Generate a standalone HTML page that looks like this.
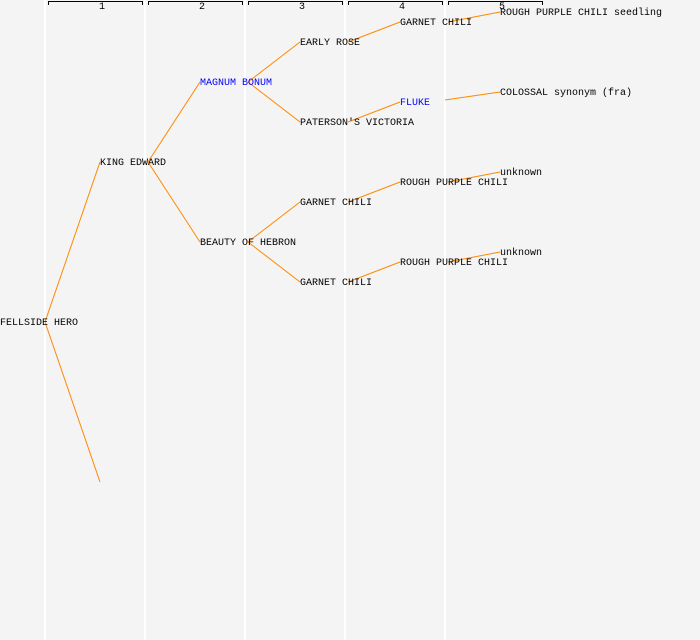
<!DOCTYPE html>
<html><head><style>body{margin:0;background:#f4f4f4}svg{display:block}text{font-family:"Liberation Mono",monospace;font-size:10px}</style></head><body>
<svg width="700" height="640" xmlns="http://www.w3.org/2000/svg">
<rect width="700" height="640" fill="#f4f4f4"/>
<g stroke="#ffffff" stroke-width="2">
<line x1="45" y1="0" x2="45" y2="640"/><line x1="145" y1="0" x2="145" y2="640"/><line x1="245" y1="0" x2="245" y2="640"/><line x1="345" y1="0" x2="345" y2="640"/><line x1="445" y1="0" x2="445" y2="640"/>
</g>
<g stroke="#000" fill="none" stroke-width="1">
<path d="M48.5 5V1.5H142.5V5"/><path d="M148.5 5V1.5H242.5V5"/><path d="M248.5 5V1.5H342.5V5"/><path d="M348.5 5V1.5H442.5V5"/><path d="M448.5 5V1.5H542.5V5"/>
</g>
<g text-anchor="middle" style="font-size:8px">
<text x="102" y="9">1</text><text x="202" y="9">2</text><text x="302" y="9">3</text><text x="402" y="9">4</text><text x="502" y="9">5</text>
</g>
<g stroke="#ff8800" stroke-width="1" fill="none">
<line x1="45" y1="322" x2="100" y2="162"/><line x1="45" y1="322" x2="100" y2="482"/>
<line x1="148" y1="162" x2="200" y2="82"/><line x1="148" y1="162" x2="200" y2="242"/>
<line x1="248" y1="82" x2="300" y2="42"/><line x1="248" y1="82" x2="300" y2="122"/>
<line x1="248" y1="242" x2="300" y2="202"/><line x1="248" y1="242" x2="300" y2="282"/>
<line x1="348" y1="42" x2="400" y2="22"/><line x1="348" y1="122" x2="400" y2="102"/>
<line x1="348" y1="202" x2="400" y2="182"/><line x1="348" y1="282" x2="400" y2="262"/>
<line x1="448" y1="22" x2="500" y2="12"/><line x1="445" y1="100" x2="500" y2="92"/>
<line x1="448" y1="182" x2="500" y2="172"/><line x1="448" y1="262" x2="500" y2="252"/>
</g>
<g fill="#000">
<text x="0" y="325">FELLSIDE HERO</text>
<text x="100" y="165">KING EDWARD</text>
<text x="200" y="85" fill="#0000ff">MAGNUM BONUM</text>
<text x="200" y="245">BEAUTY OF HEBRON</text>
<text x="300" y="45">EARLY ROSE</text>
<text x="300" y="125">PATERSON'S VICTORIA</text>
<text x="300" y="205">GARNET CHILI</text>
<text x="300" y="285">GARNET CHILI</text>
<text x="400" y="25">GARNET CHILI</text>
<text x="400" y="105" fill="#0000ff">FLUKE</text>
<text x="400" y="185">ROUGH PURPLE CHILI</text>
<text x="400" y="265">ROUGH PURPLE CHILI</text>
<text x="500" y="15">ROUGH PURPLE CHILI seedling</text>
<text x="500" y="95">COLOSSAL synonym (fra)</text>
<text x="500" y="175">unknown</text>
<text x="500" y="255">unknown</text>
</g>
</svg>
</body></html>
